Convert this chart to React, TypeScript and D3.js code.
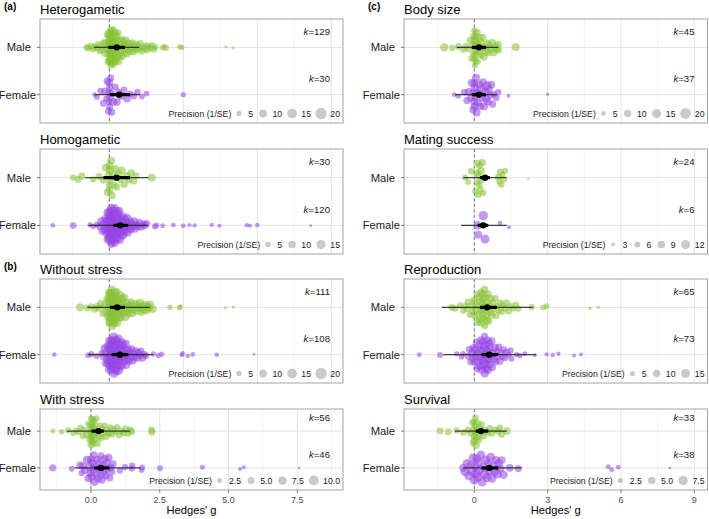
import React from 'react';
import * as d3 from 'd3';

type Pt = [number, number]; // [Hedges' g, precision (1/SE)]

// ---------------- DATA ----------------
const hetMale: Pt[] = [
  [-0.76,8],[-0.7,7],[-0.62,8],[-0.55,7],[-0.48,8],[-0.42,7],[-0.37,8],[-0.32,7],[-0.27,8],[-0.23,9],[-0.19,7],[-0.15,8],[-0.12,9],[-0.09,8],[-0.06,9],
  [-0.04,9],[-0.03,10],[-0.02,8],[-0.01,11],[0,9],[0,10],[0,8],[0.01,11],[0.01,9],[0.02,10],[0.02,8],[0.03,9],[0.03,11],[0.04,8],[0.04,10],[0.05,9],[0.05,7],[0.06,10],[0.06,8],[0.07,9],[0.07,11],[0.08,8],[0.08,10],[0.09,9],[0.1,7],[0.1,10],[0.11,8],[0.11,9],[0.12,11],[0.13,8],[0.13,10],[0.14,9],[0.15,7],[0.15,10],[0.16,8],[0.17,9],[0.18,10],[0.19,8],[0.2,9],[0.21,7],[0.22,10],[0.23,8],[0.24,9],[0.25,8],[0.26,10],[0.27,7],[0.28,9],[0.3,8],[0.31,9],[0.32,7],
  [0.34,9],[0.35,8],[0.37,7],[0.38,9],[0.4,8],[0.42,7],[0.43,9],[0.45,8],[0.47,7],[0.49,9],[0.51,8],[0.53,7],[0.55,8],[0.57,9],[0.6,7],[0.62,8],[0.64,7],[0.67,9],[0.7,8],[0.72,7],[0.75,8],[0.78,7],[0.81,8],[0.84,7],[0.87,8],[0.9,7],[0.94,8],[0.97,7],[1.01,8],[1.05,7],[1.09,8],[1.13,7],[1.18,8],[1.23,7],[1.28,8],
  [1.33,7],[1.38,8],[1.44,7],[1.5,8],[1.55,7],[1.8,6],[1.86,5],[1.92,6],[2.38,5],[2.45,5],[3.94,2],[4.18,2],
];
const hetFemale: Pt[] = [
  [-0.5,4],[-0.42,6],[-0.3,7],[-0.2,8],[-0.15,9],[-0.1,7],[-0.06,10],[-0.03,8],[-0.01,9],[0,7],[0,10],[0.01,8],[0.02,9],[0.03,11],[0.05,8],[0.08,9],[0.1,7],[0.14,10],[0.2,8],[0.26,9],[0.32,7],[0.4,10],[0.5,8],[0.6,9],[0.7,7],[0.82,8],[0.95,7],[1.1,6],[1.26,6],[2.5,5],
];
const homMale: Pt[] = [
  [-1.22,7],[-1.05,8],[-0.93,9],[-0.55,7],[-0.35,9],[-0.2,10],[-0.12,11],[-0.06,10],[-0.02,12],[0,9],[0,11],[0.01,10],[0.02,12],[0.04,9],[0.06,11],[0.09,10],[0.12,12],[0.16,9],[0.2,11],[0.25,10],[0.3,12],[0.36,9],[0.42,11],[0.5,10],[0.58,12],[0.66,9],[0.74,11],[0.82,10],[0.9,8],[1.43,12],
];
const homFemale: Pt[] = [
  [-1.91,4],[-1.22,8],[-0.65,5],[-0.54,5],[-0.43,6],
  [-0.31,11],[-0.27,12],[-0.24,10],[-0.2,13],[-0.17,11],[-0.14,12],[-0.12,14],[-0.1,11],[-0.08,13],[-0.06,12],[-0.05,14],[-0.04,11],[-0.03,13],[-0.02,12],[-0.01,15],[0,12],[0,14],[0.01,11],[0.01,13],[0.02,12],[0.03,15],[0.03,11],[0.04,13],[0.05,12],[0.05,14],[0.06,11],[0.07,13],[0.08,12],[0.08,15],[0.09,11],[0.1,13],[0.1,12],[0.11,14],[0.12,11],[0.13,13],[0.13,12],[0.14,15],[0.15,11],[0.16,13],[0.17,12],[0.17,14],[0.18,11],[0.19,13],[0.2,12],[0.21,14],[0.22,11],[0.23,13],[0.24,12],[0.25,15],[0.26,11],[0.27,13],[0.28,12],[0.29,14],[0.3,11],[0.31,13],[0.32,12],[0.33,14],[0.35,11],[0.36,13],[0.37,12],[0.38,14],[0.4,11],[0.41,13],[0.42,12],[0.44,14],[0.45,11],[0.47,13],[0.48,12],[0.5,14],[0.52,11],[0.54,13],[0.56,12],[0.58,11],[0.6,13],[0.62,12],[0.65,11],[0.68,13],[0.7,12],[0.73,11],[0.76,12],[0.8,11],[0.84,12],[0.88,10],[0.92,11],[0.97,10],[1.02,11],[1.08,10],[1.14,9],[1.2,10],[1.26,9],
  [1.54,6],[1.6,5],[1.8,4],[2.16,4],[2.5,4],[2.71,3],[2.88,3],[3.46,3],[3.72,3],[4.64,3],[4.75,3],[5.0,3.5],[6.8,1],
];
const woMale: Pt[] = [
  [-0.99,11],[-0.74,8],[-0.6,7],[-0.5,8],[-0.42,9],[-0.35,8],[-0.28,9],[-0.22,8],[-0.17,9],[-0.12,10],[-0.08,9],[-0.05,10],
  [-0.03,10],[-0.02,9],[-0.01,11],[0,10],[0,12],[0,9],[0.01,11],[0.01,10],[0.02,12],[0.03,9],[0.03,11],[0.04,10],[0.05,12],[0.05,9],[0.06,11],[0.07,10],[0.08,12],[0.08,9],[0.09,10],[0.1,11],[0.11,9],[0.12,12],[0.13,10],[0.14,11],[0.15,9],[0.16,10],[0.17,12],[0.18,9],[0.19,11],[0.2,10],[0.21,9],[0.22,11],[0.24,10],[0.25,12],[0.26,9],[0.27,10],[0.28,11],[0.3,9],[0.31,10],[0.33,11],[0.34,9],[0.36,10],[0.37,11],[0.39,9],[0.4,10],
  [0.42,9],[0.44,10],[0.46,11],[0.48,9],[0.5,10],[0.52,9],[0.55,11],[0.57,10],[0.6,9],[0.62,10],[0.65,11],[0.68,9],[0.71,10],[0.74,9],[0.77,11],[0.8,10],[0.84,9],[0.88,10],[0.92,11],[0.96,9],[1.0,10],[1.04,11],[1.08,9],[1.12,10],[1.16,11],[1.2,10],[1.25,11],[1.3,10],[1.33,12],[1.37,11],
  [1.47,10],[2.05,5],[2.37,5],[2.41,4],[3.92,2],[4.19,2],
];
const woFemale: Pt[] = [
  [-1.86,4],[-0.71,6],[-0.6,6],[-0.43,6],[-0.26,7],
  [-0.2,10],[-0.16,11],[-0.13,9],[-0.1,12],[-0.08,10],[-0.06,11],[-0.04,13],[-0.02,10],[-0.01,12],[0,11],[0,13],[0.01,10],[0.02,12],[0.03,11],[0.04,13],[0.05,10],[0.06,12],[0.07,11],[0.08,13],[0.09,10],[0.1,12],[0.11,11],[0.12,13],[0.13,10],[0.14,12],[0.15,11],[0.16,13],[0.17,10],[0.18,12],[0.19,11],[0.2,13],[0.21,10],[0.22,12],[0.23,11],[0.24,13],[0.25,10],[0.26,12],[0.27,11],[0.28,13],[0.29,10],[0.3,12],[0.31,11],[0.32,13],[0.33,10],[0.35,12],[0.36,11],[0.37,12],[0.39,10],[0.4,11],[0.42,12],[0.43,10],[0.45,11],[0.46,12],[0.48,10],[0.5,11],[0.52,12],[0.54,10],[0.56,11],[0.58,10],[0.6,11],[0.62,10],[0.64,11],[0.67,10],[0.7,11],[0.73,10],[0.76,9],[0.79,10],[0.82,9],[0.86,10],[0.9,9],[0.94,10],[0.98,9],[1.02,9],[1.07,8],[1.12,9],[1.18,8],[1.24,8],
  [1.49,5],[1.66,5],[1.77,5],[2.45,4],[2.48,4],[2.65,4],[2.82,4],[3.63,4],[4.89,1.5],
];
const wMale: Pt[] = [
  [-1.39,2.5],[-1.07,3],[-0.83,3.5],[-0.64,4],[-0.55,3.5],[-0.45,4],[-0.38,4.5],[-0.3,4],[-0.22,4.5],[-0.15,5],[-0.1,4],[-0.05,5],[-0.02,4.5],[-0.01,5],[0,4],[0,5.5],[0.01,4.5],[0.02,5],[0.03,4],[0.04,5.5],[0.05,4.5],[0.06,5],[0.07,4],[0.08,5],[0.09,4.5],[0.1,5.5],[0.11,4],[0.12,5],[0.14,4.5],[0.17,5],[0.2,4],[0.23,5],[0.26,4.5],[0.3,5],[0.33,4],[0.37,5],[0.41,4.5],[0.45,5],[0.5,4],[0.55,5],[0.6,4.5],[0.65,5],[0.7,4],[0.76,5],[0.82,4.5],[0.88,5],[0.95,4],[1.02,5],[1.1,4.5],[1.18,5],[1.26,4.5],[1.34,5],[1.42,5],[1.48,5],[2.2,5],[2.22,5],
];
const wFemale: Pt[] = [
  [-1.39,5],[-0.7,3.6],[-0.4,5],[-0.34,4],[-0.3,6],[-0.22,5.5],[-0.15,6.5],[-0.1,6],[-0.05,7],[-0.02,6],[0,6.5],[0.02,7],[0.05,6],[0.08,6.5],[0.1,5.5],[0.13,7],[0.16,6],[0.2,6.5],[0.23,5.5],[0.26,7],[0.3,6],[0.33,6.5],[0.36,5.5],[0.4,7],[0.43,6],[0.46,6.5],[0.5,5.5],[0.53,6],[0.57,6.5],[0.6,5.5],[0.64,6],[0.68,5],[0.72,6],[0.76,5],[0.8,5.5],
  [1.05,4],[1.24,4],[1.48,4],[1.5,4],[1.84,3.5],[1.86,3.5],[2.51,3.5],[4.05,2.5],[5.42,1.6],[5.56,1.6],[7.57,0.6],
];
const bsMale: Pt[] = [
  [-1.23,12],[-0.9,8],[-0.65,9],[-0.45,8],[-0.35,9],[-0.25,8],[-0.18,9],[-0.12,8],[-0.08,10],[-0.05,8],[-0.03,9],[-0.01,8],[0,10],[0,8],[0.01,9],[0.02,8],[0.03,10],[0.04,8],[0.05,9],[0.06,8],[0.08,10],[0.1,8],[0.12,9],[0.14,8],[0.16,10],[0.19,8],[0.22,9],[0.25,10],[0.28,9],[0.31,11],[0.35,10],[0.39,11],[0.43,10],[0.47,12],[0.52,10],[0.57,11],[0.62,10],[0.68,12],[0.74,10],[0.8,11],[0.86,10],[0.92,11],[0.98,10],[1.0,9],[1.69,12],
];
const bsFemale: Pt[] = [
  [-0.82,5],[-0.65,6],[-0.4,9],[-0.3,10],[-0.22,11],[-0.15,10],[-0.1,12],[-0.06,10],[-0.03,11],[0,12],[0,10],[0.01,11],[0.02,13],[0.04,10],[0.07,12],[0.1,11],[0.13,13],[0.16,10],[0.2,12],[0.24,11],[0.28,14],[0.32,12],[0.36,13],[0.4,11],[0.44,14],[0.48,12],[0.52,13],[0.56,11],[0.6,12],[0.65,10],[0.7,11],[0.75,10],[0.8,9],[0.9,9],[0.98,8],[1.39,3.6],[3.0,3],
];
const msMale: Pt[] = [
  [-0.38,6],[-0.25,6],[-0.13,7],[0.05,7],[0.1,8],[0.12,7],[0.14,8],[0.16,7],[0.18,8],[0.2,7],[0.22,8],[0.25,7],[0.28,8],[0.3,7],[0.33,8],[0.36,7],[0.98,7],[1.02,6],[1.06,8],[1.1,7],[1.15,6],[1.2,7],[1.26,6],[2.21,1.5],
];
const msFemale: Pt[] = [[0.14,11],[0.16,10],[0.37,13],[0.44,12],[1.05,4],[1.42,3]];
const rpMale: Pt[] = [
  [-0.92,9],[-0.79,8],[-0.58,8],[-0.45,7],[-0.38,8],[-0.3,8],[-0.25,9],[-0.18,8],[-0.12,9],[-0.06,8],[-0.02,9],[0,10],[0.02,9],[0.06,10],[0.1,9],[0.13,11],[0.16,10],[0.19,11],[0.2,9],[0.22,10],[0.25,11],[0.27,9],[0.28,10],[0.3,11],[0.31,9],[0.33,10],[0.34,11],[0.36,9],[0.37,10],[0.39,11],[0.42,10],[0.43,9],[0.45,11],[0.47,10],[0.48,9],[0.5,11],[0.52,10],[0.53,9],[0.56,10],[0.58,11],[0.6,9],[0.64,10],[0.68,9],[0.72,10],[0.76,9],[0.8,10],[0.85,9],[0.9,8],[0.95,9],[1.0,8],[1.06,9],[1.12,8],[1.18,9],[1.25,8],[1.32,9],[1.4,8],[1.5,8],[1.6,7],[1.7,8],[1.8,7],[2.35,7],[2.82,6],[2.96,6],[4.73,2.4],[5.07,2.4],
];
const rpFemale: Pt[] = [
  [-2.25,4.6],[-1.4,6.7],[-0.72,5],[-0.52,6],[-0.46,6],
  [-0.25,9],[-0.2,10],[-0.15,9],[-0.1,11],[-0.06,10],[-0.03,11],[0,10],[0.03,12],[0.06,10],[0.09,11],[0.12,10],[0.15,12],[0.18,11],[0.2,10],[0.21,12],[0.22,11],[0.25,13],[0.27,10],[0.3,12],[0.32,11],[0.33,13],[0.34,10],[0.36,12],[0.38,11],[0.4,13],[0.42,10],[0.43,12],[0.44,11],[0.46,13],[0.48,10],[0.5,12],[0.51,11],[0.52,13],[0.54,10],[0.56,12],[0.57,11],[0.58,10],[0.6,12],[0.62,11],[0.65,10],[0.68,12],[0.71,11],[0.74,10],[0.77,11],[0.8,10],[0.84,11],[0.88,10],[0.92,9],[0.96,10],[1.0,9],[1.05,10],[1.1,9],[1.15,8],[1.2,9],[1.26,8],[1.32,8],[1.4,7],[1.48,7],[1.52,7],
  [1.73,5],[1.87,5],[2.07,4.6],[2.48,3],[2.96,3.5],[3.21,3.5],[3.44,3.5],[4.08,3],[4.36,3],
];
const svMale: Pt[] = [
  [-1.4,4.3],[-1.06,4.3],[-0.72,3.5],[-0.45,4],[-0.25,4],[-0.15,4.5],[-0.08,4],[-0.04,4.5],[-0.02,4],[0,4.5],[0,4],[0.01,5],[0.02,4],[0.03,4.5],[0.05,4],[0.07,5],[0.09,4],[0.11,4.5],[0.14,4],[0.17,5],[0.2,4],[0.23,4.5],[0.3,4],[0.38,4.5],[0.44,4],[0.55,4.5],[0.64,4],[0.71,4.5],[0.85,4],[0.98,4.5],[1.05,4],[1.12,4.5],[1.33,5],
];
const svFemale: Pt[] = [
  [-0.45,6],[-0.38,7],[-0.3,6.5],[-0.22,7],[-0.15,6],[-0.1,7.5],[-0.05,6.5],[0,7],[0.03,6],[0.07,7.5],[0.1,6.5],[0.14,7],[0.18,6],[0.22,7.5],[0.27,6.5],[0.32,7],[0.37,6],[0.42,7.5],[0.47,6.5],[0.52,7],[0.57,6],[0.62,7],[0.67,6.5],[0.72,7],[0.77,6],[0.83,6.5],[0.89,6],[0.95,7],[1.0,6],[1.06,6.5],[1.12,5.5],[1.2,6],
  [1.45,5.3],[1.8,4.3],[5.48,2.3],[5.62,2.3],[5.89,2.3],[8.0,0.8],
];

// estimates: [mean, CI low, CI high, PI low, PI high]
const hetMaleEst = [0.25, -0.03, 0.53, -0.51, 1.01];
const hetFemaleEst = [0.33, 0.02, 0.7, -0.5, 1.04];
const homMaleEst = [0.25, -0.2, 0.7, -0.82, 1.32];
const homFemaleEst = [0.37, 0.14, 0.64, -0.7, 1.3];
const woMaleEst = [0.27, 0.02, 0.53, -0.74, 1.37];
const woFemaleEst = [0.36, 0.08, 0.64, -0.71, 1.49];
const wMaleEst = [0.27, 0.02, 0.47, -0.88, 1.42];
const wFemaleEst = [0.36, 0.11, 0.67, -0.6, 1.8];
const bsMaleEst = [0.19, -0.1, 0.48, -0.72, 0.98];
const bsFemaleEst = [0.19, -0.1, 0.48, -0.79, 0.92];
const msMaleEst = [0.44, 0.23, 0.64, -0.45, 1.33];
const msFemaleEst = [0.37, 0.14, 0.57, -0.54, 1.33];
const rpMaleEst = [0.53, 0.23, 0.92, -1.33, 2.41];
const rpFemaleEst = [0.61, 0.3, 0.98, -1.27, 2.52];
const svMaleEst = [0.27, 0.06, 0.57, -0.79, 1.33];
const svFemaleEst = [0.61, 0.3, 0.98, -0.45, 1.94];

const titles = ['Heterogametic', 'Homogametic', 'Without stress', 'With stress', 'Body size', 'Mating success', 'Reproduction', 'Survival'];
const kMale = [129, 30, 111, 56, 45, 24, 65, 33];
const kFemale = [30, 120, 108, 46, 37, 6, 73, 38];
const legendBreaks = [[5, 10, 15, 20], [5, 10, 15], [5, 10, 15, 20], [2.5, 5, 7.5, 10], [5, 10, 15, 20], [3, 6, 9, 12], [5, 10, 15], [2.5, 5, 7.5]];
const legendLabels = [['5', '10', '15', '20'], ['5', '10', '15'], ['5', '10', '15', '20'], ['2.5', '5.0', '7.5', '10.0'], ['5', '10', '15', '20'], ['3', '6', '9', '12'], ['5', '10', '15'], ['2.5', '5.0', '7.5']];
const categories = ['Male', 'Female'];
const ticksLeft = [0, 2.5, 5, 7.5];
const tickLabelsLeft = ['0.0', '2.5', '5.0', '7.5'];
const ticksRight = [0, 3, 6, 9];
const tickLabelsRight = ['0', '3', '6', '9'];

// ---------------- LAYOUT ----------------
const W = 709, H = 519;
const colX: [number, number][] = [[40, 343], [404, 707.5]];
const rowY: [number, number][] = [[19, 123], [149, 254], [279, 383], [409, 490]];
const FONT = "'Liberation Sans', Arial, Helvetica, sans-serif";
const GREEN = '#86C234';
const PURPLE = '#9546E6';

const domLeftTop: [number, number] = [-2.341, 7.895];
const domLeftBottom: [number, number] = [-1.855, 9.164];
const domRight: [number, number] = [-2.875, 9.538];

const legendR: [number, number][] = [[2.65, 5.65], [2.7, 4.5], [2.65, 5.65], [2.5, 5], [2.4, 5.4], [2, 4.5], [2.6, 4.5], [2.6, 4.7]];

interface Group { name: string; pts: Pt[]; est: number[]; k: number; color: string }
interface PanelCfg {
  idx: number; col: number; row: number; title: string; domain: [number, number];
  grid: number[]; major: number; ticks: number[] | null; tickLabels: string[] | null;
  groups: Group[];
}

const males = [hetMale, homMale, woMale, wMale, bsMale, msMale, rpMale, svMale];
const females = [hetFemale, homFemale, woFemale, wFemale, bsFemale, msFemale, rpFemale, svFemale];
const maleEst = [hetMaleEst, homMaleEst, woMaleEst, wMaleEst, bsMaleEst, msMaleEst, rpMaleEst, svMaleEst];
const femaleEst = [hetFemaleEst, homFemaleEst, woFemaleEst, wFemaleEst, bsFemaleEst, msFemaleEst, rpFemaleEst, svFemaleEst];

const panels: PanelCfg[] = titles.map((title, i) => {
  const col = i < 4 ? 0 : 1;
  const row = i % 4;
  const domain = col === 1 ? domRight : row === 3 ? domLeftBottom : domLeftTop;
  const step = col === 1 ? 1.5 : 1.25;
  const grid = d3.range(Math.ceil(domain[0] / step) * step, domain[1] + 1e-9, step);
  return {
    idx: i, col, row, title, domain, grid, major: col === 1 ? 3 : 2.5,
    ticks: row === 3 ? (col === 0 ? ticksLeft : ticksRight) : null,
    tickLabels: row === 3 ? (col === 0 ? tickLabelsLeft : tickLabelsRight) : null,
    groups: [
      { name: 'Male', pts: males[i], est: maleEst[i], k: kMale[i], color: GREEN },
      { name: 'Female', pts: females[i], est: femaleEst[i], k: kFemale[i], color: PURPLE },
    ],
  };
});

// ---------------- HELPERS ----------------
let measureCtx: CanvasRenderingContext2D | null = null;
function textW(t: string, size: number): number {
  if (!measureCtx) measureCtx = document.createElement('canvas').getContext('2d');
  if (!measureCtx) return t.length * size * 0.55;
  measureCtx.font = `${size}px "Liberation Sans"`;
  return measureCtx.measureText(t).width;
}

function vdc(i: number): number {
  let v = 0, d = 1, n = i;
  while (n > 0) { d *= 2; v += (n % 2) / d; n = Math.floor(n / 2); }
  return v;
}

function quasiOffsets(xs: number[]): number[] {
  const n = xs.length;
  if (n < 2) return xs.map(() => 0);
  const s = xs.slice().sort(d3.ascending);
  const sd = d3.deviation(s) || 0;
  const iqr = (d3.quantileSorted(s, 0.75) as number) - (d3.quantileSorted(s, 0.25) as number);
  let lo = Math.min(sd, iqr / 1.34);
  if (!(lo > 0)) lo = sd || 1;
  const bw = 0.9 * lo * Math.pow(n, -0.2) * 0.9;
  const dens = xs.map(x => d3.sum(xs, v => Math.exp(-0.5 * ((x - v) / bw) ** 2)));
  const maxD = d3.max(dens) as number;
  const order = d3.range(n).sort((a, b) => xs[a] - xs[b] || a - b);
  const off = new Array(n).fill(0);
  order.forEach((idx, r) => { off[idx] = (vdc(r + 1) - 0.5) * 2 * dens[idx] / maxD; });
  return off;
}

function Panel({ c }: { c: PanelCfg }) {
  const [x0, x1] = colX[c.col];
  const [top, bottom] = rowY[c.row];
  const x = d3.scaleLinear().domain(c.domain).range([x0, x1]);
  const y = d3.scalePoint<string>().domain(categories).range([top, bottom]).padding(0.6);
  const step = y.step();
  const breaks = legendBreaks[c.idx];
  const labels = legendLabels[c.idx];
  const [rA, rB] = legendR[c.idx];
  const pA = breaks[0], pB = breaks[breaks.length - 1];
  const cc = (rB - rA) / (Math.sqrt(pB) - Math.sqrt(pA));
  const dd = rA - cc * Math.sqrt(pA);
  const rOf = (p: number) => Math.max(0.9, cc * Math.sqrt(p) + dd);
  const swarmW = 0.41 * step;

  // legend layout
  const lfs = 8.7;
  const title = 'Precision (1/SE)';
  let cur = textW(title, lfs);
  const items = breaks.map((b, i) => {
    const cx = cur + (i === 0 ? 7.7 : 10);
    const lx = cx + 9.3;
    cur = lx + textW(labels[i], lfs);
    return { cx, lx, r: rOf(b), label: labels[i] };
  });
  const lShift = x1 - 3 - cur;
  const ly = bottom - 9.5;

  return (
    <g>
      <text x={x0} y={top - 5} fontSize={13} fill="#000">{c.title}</text>
      <rect x={x0} y={top} width={x1 - x0} height={bottom - top} fill="#fff" />
      {c.grid.map(v => {
        const isMajor = Math.abs(v / c.major - Math.round(v / c.major)) < 1e-6;
        return <line key={'g' + v} x1={x(v)} x2={x(v)} y1={top} y2={bottom}
          stroke={isMajor ? '#e4e4e4' : '#eeeeee'} strokeWidth={isMajor ? 1 : 0.7} />;
      })}
      {categories.map(k => (
        <line key={'h' + k} x1={x0} x2={x1} y1={y(k)} y2={y(k)} stroke="#e4e4e4" strokeWidth={1} />
      ))}
      <line x1={x(0)} x2={x(0)} y1={top} y2={bottom} stroke="#555" strokeWidth={0.8} strokeDasharray="3,2.5" />
      {c.groups.map(g => {
        const off = quasiOffsets(g.pts.map(p => p[0]));
        const yc = y(g.name) as number;
        return (
          <g key={'pts' + g.name}>
            {g.pts.map((p, i) => (
              <circle key={i} cx={x(p[0])} cy={yc - off[i] * swarmW} r={rOf(p[1])} fill={g.color} fillOpacity={0.55} />
            ))}
          </g>
        );
      })}
      {c.groups.map(g => {
        const yc = y(g.name) as number;
        const [m, cl, ch, pl, ph] = g.est;
        return (
          <g key={'est' + g.name}>
            <line x1={x(pl)} x2={x(ph)} y1={yc} y2={yc} stroke="#222" strokeOpacity={0.85} strokeWidth={1.1} />
            <line x1={x(cl)} x2={x(ch)} y1={yc} y2={yc} stroke="#000" strokeWidth={3.2} />
            <circle cx={x(m)} cy={yc} r={3.2} fill="#000" />
            <text x={x1 - 13} y={yc - 0.265 * step} fontSize={9.6} textAnchor="end" fill="#1a1a1a">
              <tspan fontStyle="italic">k</tspan>={g.k}
            </text>
          </g>
        );
      })}
      <g transform={`translate(${lShift},0)`}>
        <text x={0} y={ly + 3} fontSize={lfs} fill="#1a1a1a">{title}</text>
        {items.map((it, i) => (
          <g key={'l' + i}>
            <circle cx={it.cx} cy={ly} r={it.r} fill="#7a7a7a" fillOpacity={0.4} />
            <text x={it.lx} y={ly + 3} fontSize={lfs} fill="#1a1a1a">{it.label}</text>
          </g>
        ))}
      </g>
      <rect x={x0} y={top} width={x1 - x0} height={bottom - top} fill="none" stroke="#a3a3a3" strokeWidth={1} />
      {categories.map(k => (
        <g key={'yl' + k}>
          <line x1={x0 - 3} x2={x0} y1={y(k)} y2={y(k)} stroke="#444" strokeWidth={0.7} />
          <text x={x0 - (k === 'Male' ? 9 : 4)} y={(y(k) as number) + 4} fontSize={11.2} textAnchor="end" fill="#1a1a1a">{k}</text>
        </g>
      ))}
      {c.ticks && c.ticks.map((t, i) => (
        <g key={'xt' + t}>
          <line x1={x(t)} x2={x(t)} y1={bottom} y2={bottom + 3} stroke="#444" strokeWidth={0.7} />
          <text x={x(t)} y={bottom + 13} fontSize={9} textAnchor="middle" fill="#4d4d4d">{c.tickLabels![i]}</text>
        </g>
      ))}
      {c.ticks && (
        <text x={(x0 + x1) / 2} y={514} fontSize={11.2} textAnchor="middle" fill="#000">Hedges' g</text>
      )}
    </g>
  );
}

export default function App() {
  return (
    <svg width={W} height={H} viewBox={`0 0 ${W} ${H}`} fontFamily={FONT}
      style={{ position: 'absolute', left: 0, top: 0, background: '#fff', display: 'block' }}>
      <rect width={W} height={H} fill="#fff" />
      {panels.map(p => <Panel key={p.idx} c={p} />)}
      <text x={4} y={10} fontSize={10} fontWeight="bold" fill="#000">(a)</text>
      <text x={4} y={270} fontSize={10} fontWeight="bold" fill="#000">(b)</text>
      <text x={368} y={10} fontSize={10} fontWeight="bold" fill="#000">(c)</text>
    </svg>
  );
}
